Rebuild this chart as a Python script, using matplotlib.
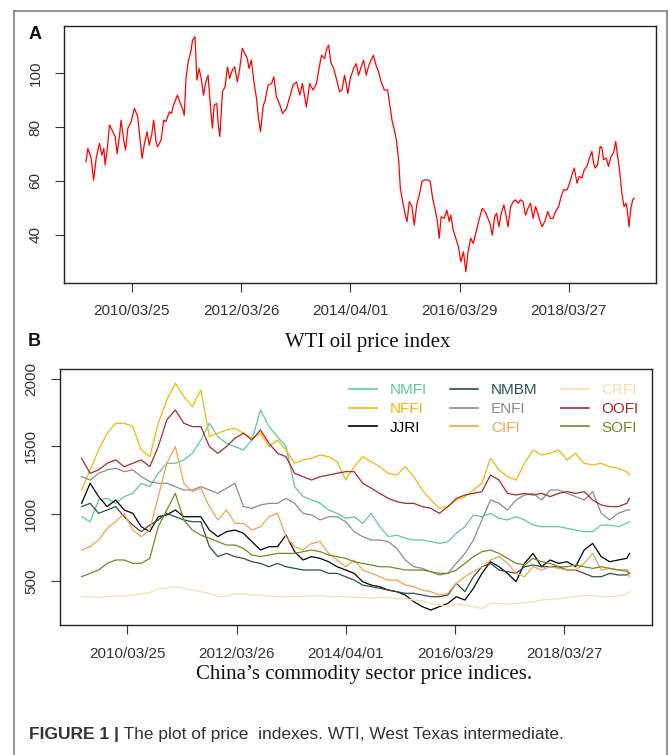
import numpy as np
import matplotlib.pyplot as plt
from matplotlib.lines import Line2D

# Figure size in pixels -> inches at 100 dpi
W, H = 669, 755
fig = plt.figure(figsize=(W / 100, H / 100), dpi=100)

# ---------------- data ----------------
# WTI: trading-day index and price
wti_obs = [1, 10, 25, 36, 48, 56, 63, 74, 83, 89, 98, 109, 124, 135, 144, 155, 162, 174, 182, 193,
           208, 223, 238, 250, 258, 269, 281, 291, 302, 311, 322, 329, 345, 357, 367, 383, 393, 402, 420, 433,
           443, 451, 459, 469, 481, 489, 500, 509, 519, 530, 539, 550, 560, 573, 580, 588, 600, 607, 614, 626,
           638, 649, 659, 671, 682, 694, 705, 717, 728, 740, 747, 758, 770, 782, 790, 800, 813,
           820, 835, 851, 861, 873, 889, 901, 919, 934, 949, 965, 980, 992, 1010, 1025, 1041, 1056, 1068, 1079, 1094,
           1101, 1112, 1121, 1135, 1147, 1162, 1173, 1185, 1200, 1211, 1226, 1238, 1249, 1261, 1272, 1284, 1296, 1306,
           1317, 1329, 1341, 1352, 1367, 1382, 1390, 1402, 1413, 1423, 1433, 1440, 1451, 1463, 1471, 1481, 1493, 1504,
           1515, 1527, 1539, 1550, 1565, 1577, 1588, 1600, 1610, 1618, 1627, 1641, 1653, 1664, 1671, 1682, 1694, 1706,
           1717, 1729, 1740, 1750, 1762, 1774, 1785, 1800, 1815, 1828, 1838, 1850, 1861, 1872, 1881, 1891, 1902, 1914,
           1925, 1933, 1945, 1957, 1967, 1980, 1990, 2002, 2013, 2024, 2036, 2048, 2059, 2069, 2078, 2089, 2101, 2115,
           2127, 2139, 2150, 2165, 2176, 2188, 2203, 2215, 2226, 2236, 2249, 2259, 2271, 2282, 2294, 2306, 2317, 2325,
           2332, 2343, 2355, 2363, 2370, 2382, 2393, 2404, 2416, 2426, 2435, 2446, 2454, 2464, 2473, 2479, 2487, 2495,
           2504, 2510]
wti_price = [67.1, 72.1, 68.4, 60.3, 68.4, 71.5, 74.0, 69.6, 72.1, 65.9, 71.5, 80.8, 78.3, 76.5, 70.2, 77.1, 82.6, 75.2, 71.5, 79.6,
             82.0, 87.0, 83.9, 74.6, 68.4, 74.0, 78.3, 73.3, 77.1, 82.6, 74.6, 72.7, 75.2, 82.6, 82.0, 85.7, 85.1, 88.2, 91.9, 88.8,
             86.9, 84.4, 98.1, 104.3, 108.0, 112.3, 113.6, 97.5, 101.8, 97.5, 91.9, 96.8, 99.3, 85.7, 79.6, 88.2, 88.8, 80.8, 76.5, 93.2,
             95.0, 102.4, 98.1, 101.2, 102.4, 96.8, 101.8, 109.3, 107.4, 105.5, 101.8, 104.9, 96.8, 90.6, 83.9, 78.3, 88.2,
             89.4, 95.6, 96.2, 98.7, 91.3, 88.2, 85.1, 86.9, 91.3, 95.6, 96.8, 91.9, 96.2, 87.5, 96.2, 93.8, 96.2, 101.8, 106.7, 105.5,
             108.6, 110.5, 104.3, 101.8, 98.1, 93.2, 93.8, 99.3, 92.5, 98.1, 101.8, 103.6, 99.3, 102.4, 104.9, 99.3, 103.0, 104.9,
             106.7, 103.0, 100.5, 96.8, 93.8, 93.8, 89.4, 82.6, 78.9, 74.6, 67.1, 57.3, 52.3, 47.3, 44.9, 52.3, 50.5, 43.6,
             51.1, 54.8, 59.8, 60.4, 60.4, 59.8, 53.6, 49.2, 44.9, 38.7, 46.7, 46.1, 49.2, 44.9, 47.3, 41.8, 38.7, 35.6,
             30.0, 33.7, 26.3, 33.7, 38.7, 36.8, 40.5, 45.5, 49.8, 48.6, 46.7, 44.3, 39.9, 46.7, 48.0, 43.0, 48.0, 51.1,
             46.7, 43.0, 50.5, 52.3, 53.0, 51.7, 53.0, 52.3, 47.3, 49.8, 51.7, 46.1, 50.5, 48.0, 45.5, 43.0, 44.9, 48.6,
             46.1, 46.1, 48.6, 50.5, 54.2, 56.7, 56.7, 59.2, 62.3, 64.8, 59.2, 61.7, 61.1, 64.2, 65.4, 68.5, 71.0, 66.6,
             64.8, 66.0, 72.9, 72.2, 67.9, 68.5, 65.4, 69.1, 70.4, 74.7, 69.1, 62.3, 55.5, 50.5, 51.7, 49.2, 43.0, 49.8,
             53.0, 53.6]

# China sector indices, sampled every 39 trading days (plus the last day)
sector_obs = list(range(1, 2498, 39)) + [2510]
nmfi = [979, 942, 1103, 1115, 1078, 1128, 1152, 1227, 1202, 1301, 1375, 1375, 1400, 1449, 1548, 1672,
        1573, 1523, 1499, 1474, 1548, 1771, 1647, 1573, 1499, 1202, 1128, 1103, 1078, 1029, 1004, 967,
        979, 930, 1004, 905, 831, 843, 819, 806, 806, 794, 781, 794, 856, 905, 992, 979,
        1004, 967, 955, 979, 955, 917, 905, 905, 905, 893, 880, 868, 868, 917, 917, 905, 930, 942]
nffi = [1177, 1326, 1474, 1598, 1672, 1672, 1647, 1474, 1424, 1672, 1845, 1969, 1870, 1795, 1919, 1573,
        1598, 1622, 1635, 1598, 1561, 1598, 1499, 1548, 1474, 1375, 1400, 1412, 1437, 1424, 1387, 1251,
        1350, 1424, 1387, 1350, 1301, 1288, 1350, 1276, 1177, 1103, 1041, 1054, 1103, 1128, 1177, 1227,
        1412, 1326, 1276, 1251, 1375, 1474, 1437, 1449, 1474, 1400, 1449, 1375, 1363, 1375, 1350, 1338, 1313, 1288]
jjri = [1078, 1227, 1128, 1054, 1103, 1029, 1004, 905, 868, 979, 992, 1029, 979, 979, 979, 880,
        831, 868, 880, 856, 794, 732, 757, 757, 843, 720, 658, 683, 670, 645, 608, 584,
        559, 497, 472, 460, 435, 423, 398, 349, 312, 287, 312, 336, 386, 361, 448, 559,
        645, 608, 559, 497, 633, 707, 608, 658, 633, 645, 608, 732, 781, 683, 645, 658, 670, 707]
nmbm = [1054, 1078, 1004, 1029, 1054, 979, 917, 868, 917, 955, 1004, 979, 955, 942, 942, 757,
        683, 707, 683, 670, 645, 633, 608, 633, 608, 596, 584, 584, 584, 559, 559, 534,
        509, 472, 460, 448, 435, 423, 411, 411, 398, 386, 386, 398, 485, 423, 534, 608,
        633, 584, 571, 559, 608, 621, 608, 608, 608, 584, 584, 559, 534, 534, 559, 547, 547, 559]
enfi = [1276, 1251, 1301, 1326, 1338, 1313, 1326, 1276, 1239, 1227, 1227, 1202, 1177, 1177, 1202, 1177,
        1152, 1190, 1227, 1054, 1041, 1066, 1078, 1078, 1115, 1078, 1004, 992, 955, 979, 979, 942,
        868, 831, 806, 806, 794, 744, 658, 608, 596, 571, 547, 559, 633, 707, 806, 955,
        1103, 1078, 1029, 1103, 1140, 1152, 1103, 1177, 1177, 1152, 1128, 1103, 1165, 1004, 955, 1004, 1029, 1029]
cifi = [732, 757, 806, 893, 942, 1004, 880, 831, 880, 1128, 1375, 1499, 1227, 1165, 1190, 1054,
        955, 1029, 930, 930, 880, 905, 979, 1004, 831, 757, 732, 781, 794, 707, 658, 608,
        658, 584, 559, 534, 509, 509, 472, 460, 435, 423, 398, 411, 485, 534, 571, 608,
        658, 683, 633, 559, 534, 608, 584, 608, 596, 584, 584, 633, 707, 584, 596, 584, 571, 534]
crfi = [386, 386, 381, 386, 391, 391, 398, 406, 416, 448, 448, 460, 448, 435, 423, 411,
        386, 391, 406, 406, 398, 398, 391, 386, 386, 386, 386, 391, 396, 386, 386, 386,
        381, 381, 376, 381, 381, 371, 371, 361, 356, 336, 324, 312, 331, 324, 312, 299,
        336, 336, 331, 336, 341, 349, 361, 366, 371, 381, 386, 396, 396, 386, 386, 391, 406, 423]
oofi = [1412, 1301, 1326, 1375, 1400, 1350, 1375, 1400, 1350, 1499, 1697, 1771, 1672, 1647, 1647, 1499,
        1449, 1499, 1561, 1598, 1548, 1622, 1523, 1449, 1424, 1301, 1276, 1251, 1276, 1288, 1301, 1313,
        1313, 1227, 1190, 1152, 1115, 1091, 1078, 1078, 1054, 1041, 1004, 1054, 1115, 1140, 1152, 1165,
        1288, 1251, 1152, 1140, 1152, 1140, 1152, 1128, 1152, 1165, 1152, 1165, 1103, 1066, 1054, 1054, 1078, 1115]
sofi = [534, 559, 584, 633, 658, 658, 633, 633, 670, 905, 1029, 1152, 955, 880, 843, 819,
        794, 769, 769, 744, 695, 683, 695, 707, 707, 707, 720, 732, 720, 695, 683, 670,
        645, 633, 621, 608, 608, 596, 584, 584, 584, 571, 559, 559, 584, 633, 683, 720,
        732, 707, 670, 633, 621, 670, 645, 633, 608, 608, 621, 608, 596, 608, 596, 584, 584, 559]

sector_names = ["NMFI", "NFFI", "JJRI", "NMBM", "ENFI", "CIFI", "CRFI", "OOFI", "SOFI"]
sector_values = [nmfi, nffi, jjri, nmbm, enfi, cifi, crfi, oofi, sofi]
sector_colors = ["#5DC9A6", "#F2B705", "#000000", "#2F4F4F", "#8C8C8C",
                 "#F9A050", "#F5DEB3", "#A52A2A", "#6B8E23"]

tick_pos = [211, 711, 1211, 1711, 2211]
tick_labels = ["2010/03/25", "2012/03/26", "2014/04/01", "2016/03/29", "2018/03/27"]
n_obs = 2510
xlim = (1 - 0.04 * (n_obs - 1), n_obs + 0.04 * (n_obs - 1))

sans = "Liberation Sans"
serif = "Liberation Serif"
txt_col = "#333333"


def style_axes(ax):
    for s in ax.spines.values():
        s.set_color("#222222")
        s.set_linewidth(1.0)
    ax.set_xlim(*xlim)
    ax.set_xticks(tick_pos)
    ax.set_xticklabels(tick_labels, fontfamily=sans, fontsize=11, color=txt_col)
    ax.tick_params(axis="both", length=6.5, width=0.8, color="#333333")
    ax.tick_params(axis="x", pad=9)
    ax.tick_params(axis="y", pad=9, labelrotation=90)
    for lab in ax.get_yticklabels():
        lab.set_fontfamily(sans)
        lab.set_fontsize(11)
        lab.set_color(txt_col)
        lab.set_va("center")


# ---------------- panel A ----------------
axA = fig.add_axes([64 / W, 1 - 282.7 / H, (656 - 64) / W, (282.7 - 25.7) / H])
axA.plot(wti_obs, wti_price, color="#FF0000", lw=0.9)
axA.set_ylim(22.2, 117.7)
axA.set_yticks([40, 60, 80, 100])
style_axes(axA)

# ---------------- panel B ----------------
axB = fig.add_axes([59.7 / W, 1 - 625 / H, (651.5 - 59.7) / W, (625 - 369.3) / H])
for name, vals, col in zip(sector_names, sector_values, sector_colors):
    axB.plot(sector_obs, vals, color=col, lw=0.9, label=name)
axB.set_ylim(176, 2072)
axB.set_yticks([500, 1000, 1500, 2000])
style_axes(axB)

leg = axB.legend(loc="upper left", bbox_to_anchor=(0.489, 0.945), ncol=3, frameon=False,
                 prop={"family": sans, "size": 11}, labelcolor="linecolor",
                 handlelength=1.83, handletextpad=0.85, columnspacing=1.5,
                 labelspacing=0.3, borderpad=0, borderaxespad=0)
for h in leg.get_lines():
    h.set_linewidth(1.2)

# ---------------- text ----------------
fig.text(35.5 / W, 1 - 34.5 / H, "A", fontfamily=sans, fontweight="bold", fontsize=13,
         ha="center", va="center", color="#111111")
fig.text(34.5 / W, 1 - 341.5 / H, "B", fontfamily=sans, fontweight="bold", fontsize=13,
         ha="center", va="center", color="#111111")
fig.text(368 / W, 1 - 343 / H, "WTI oil price index", fontfamily=serif, fontsize=15,
         ha="center", va="center", color="#111111")
fig.text(364 / W, 1 - 675 / H, "China\u2019s commodity sector price indices.", fontfamily=serif,
         fontsize=15, ha="center", va="center", color="#111111")

# caption: bold lead-in followed by regular text
cap1 = fig.text(29 / W, 1 - 735 / H, "FIGURE 1 |", fontfamily=sans, fontweight="bold",
                fontsize=12.5, ha="left", va="center", color="#333333")
axA.annotate(" The plot of price  indexes. WTI, West Texas intermediate.", xy=(1, 0),
             xycoords=cap1, ha="left", va="bottom", fontfamily=sans, fontsize=12.5,
             color="#333333", annotation_clip=False)

# outer frame (open at the bottom)
frame_kw = dict(color="#8a8a8a", lw=1.3, transform=fig.transFigure)
fig.add_artist(Line2D([14 / W, 14 / W], [0, 1 - 11 / H], **frame_kw))
fig.add_artist(Line2D([14 / W, 667 / W], [1 - 11 / H, 1 - 11 / H], **frame_kw))
fig.add_artist(Line2D([667 / W, 667 / W], [1 - 11 / H, 0], **frame_kw))

fig.savefig("out.png", dpi=100)
